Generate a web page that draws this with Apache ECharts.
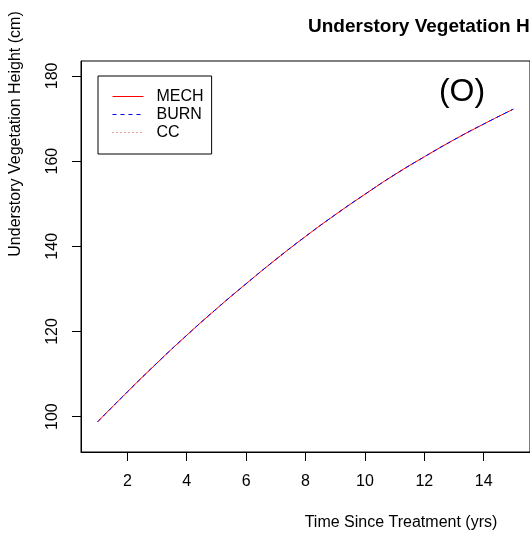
<!DOCTYPE html>
<html>
<head>
<meta charset="utf-8">
<script src="https://cdn.jsdelivr.net/npm/echarts@6/dist/echarts.min.js"></script>
<style>
html,body{margin:0;padding:0;background:#fff;}
#c{width:530px;height:533px;}
</style>
</head>
<body>
<div id="c"></div>
<script>
var years = [1, 2, 3, 4, 5, 6, 7, 8, 9, 10, 11, 12, 13, 14, 15];
var mech = [98.8, 105.8, 112.6, 119.1, 125.3, 131.2, 136.9, 142.3, 147.4, 152.2, 156.8, 161.0, 165.0, 168.7, 172.2];
var burn = [98.8, 105.8, 112.6, 119.1, 125.3, 131.2, 136.9, 142.3, 147.4, 152.2, 156.8, 161.0, 165.0, 168.7, 172.2];
var cc   = [98.8, 105.8, 112.6, 119.1, 125.3, 131.2, 136.9, 142.3, 147.4, 152.2, 156.8, 161.0, 165.0, 168.7, 172.2];
var xTicks = [2, 4, 6, 8, 10, 12, 14];
var yTicks = [100, 120, 140, 160, 180];
var seriesNames = ['MECH', 'BURN', 'CC'];

var STYLE = {
  MECH: {color: '#ff0000', type: 'solid'},
  BURN: {color: '#0000ff', type: [4, 4]},
  CC:   {color: '#c04040', type: [1, 3]}
};

function pairs(ys) { return years.map(function (x, i) { return [x, ys[i]]; }); }

var FONT = 'Liberation Sans, Arial, sans-serif';
var chart = echarts.init(document.getElementById('c'), null, {renderer: 'canvas'});
chart.setOption({
  animation: false,
  backgroundColor: '#ffffff',
  title: {
    text: 'Understory Vegetation Height',
    left: 303, top: 12,
    textStyle: {fontFamily: FONT, fontSize: 19, fontWeight: 'bold', color: '#000'}
  },
  grid: {
    left: 81, top: 61, right: -1, bottom: 81,
    show: true, borderColor: '#000', borderWidth: 1, backgroundColor: 'transparent'
  },
  legend: {
    orient: 'vertical', left: 98, top: 76,
    data: seriesNames,
    borderColor: '#000', borderWidth: 1, borderRadius: 0,
    padding: [12.5, 8, 13.5, 14],
    itemGap: 2,
    itemWidth: 31, itemHeight: 17,
    itemStyle: {opacity: 0},
    lineStyle: {width: 1},
    textStyle: {fontFamily: FONT, fontSize: 16, color: '#000', padding: [0, 0, 0, 8]}
  },
  xAxis: {
    type: 'value', min: 0.44, max: 15.56,
    axisLine: {show: true, lineStyle: {color: '#000', width: 1}},
    axisTick: {show: true, inside: false, length: 9, customValues: xTicks, lineStyle: {color: '#000'}},
    axisLabel: {customValues: xTicks, fontFamily: FONT, fontSize: 16, color: '#000', margin: 22},
    splitLine: {show: false}
  },
  yAxis: {
    type: 'value', min: 91.7, max: 183.5,
    axisLine: {show: true, lineStyle: {color: '#000', width: 1}},
    axisTick: {show: true, inside: false, length: 9, customValues: yTicks, lineStyle: {color: '#000'}},
    axisLabel: {customValues: yTicks, rotate: 90, fontFamily: FONT, fontSize: 16, color: '#000', margin: 20},
    splitLine: {show: false}
  },
  graphic: [
    {type: 'text', x: 401, y: 523, style: {text: 'Time Since Treatment (yrs)', fontFamily: FONT, fontSize: 16, fill: '#000', align: 'center', verticalAlign: 'middle'}},
    {type: 'text', x: 16, y: 134, rotation: Math.PI / 2, style: {text: 'Understory Vegetation Height (cm)', fontFamily: FONT, fontSize: 16, fill: '#000', align: 'center', verticalAlign: 'middle'}},
    {type: 'text', x: 462, y: 92, style: {text: '(O)', fontFamily: FONT, fontSize: 32, fill: '#000', align: 'center', verticalAlign: 'middle'}}
  ],
  series: [
    {name: 'CC', type: 'line', data: pairs(cc), symbol: 'none', smooth: true, z: 1,
      lineStyle: {color: STYLE.CC.color, width: 1, type: STYLE.CC.type}, itemStyle: {color: STYLE.CC.color}},
    {name: 'MECH', type: 'line', data: pairs(mech), symbol: 'none', smooth: true, z: 2,
      lineStyle: {color: STYLE.MECH.color, width: 1, type: STYLE.MECH.type}, itemStyle: {color: STYLE.MECH.color}},
    {name: 'BURN', type: 'line', data: pairs(burn), symbol: 'none', smooth: true, z: 3,
      lineStyle: {color: STYLE.BURN.color, width: 1, type: STYLE.BURN.type}, itemStyle: {color: STYLE.BURN.color}}
  ]
});
</script>
</body>
</html>
